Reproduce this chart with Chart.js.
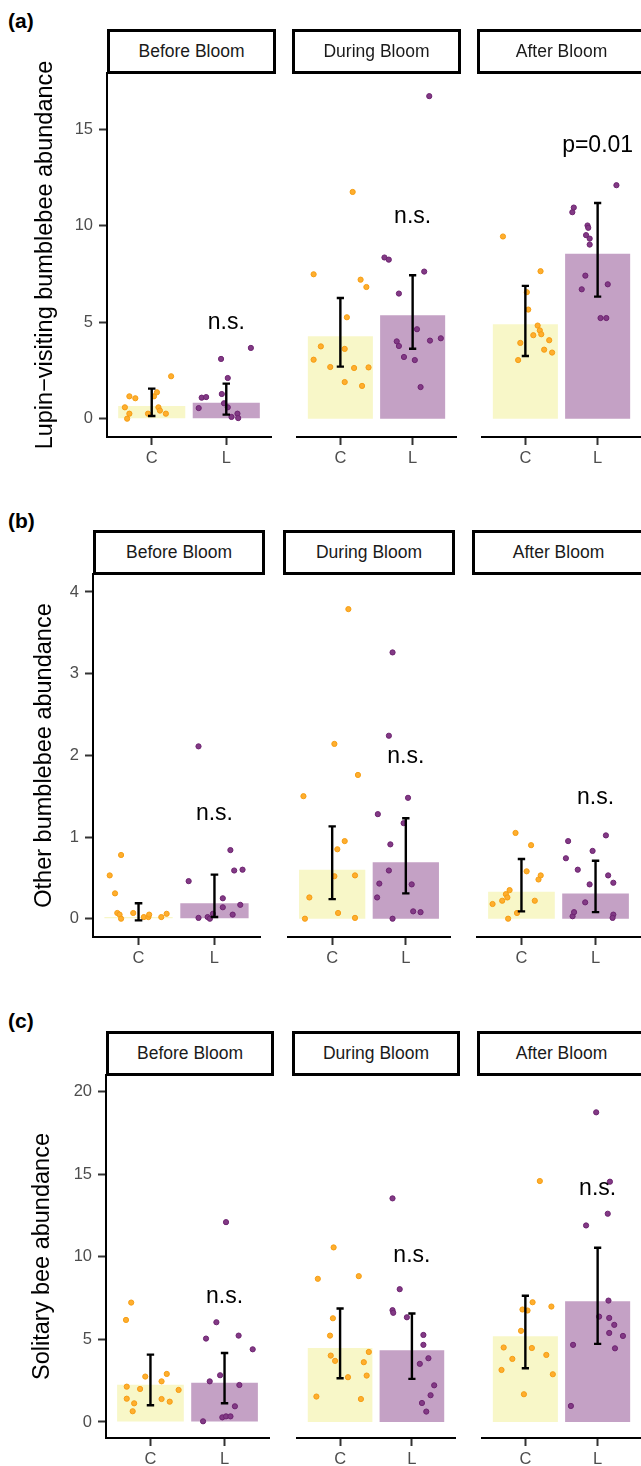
<!DOCTYPE html>
<html>
<head>
<meta charset="utf-8">
<script src="https://cdn.jsdelivr.net/npm/chart.js@4.4.0/dist/chart.umd.min.js"></script>
<style>
  html, body { margin: 0; padding: 0; background: #fff; overflow: hidden; }
  body { width: 641px; height: 1466px; position: relative; font-family: 'Liberation Sans', Arial, sans-serif; }
  .strip { position: absolute; box-sizing: border-box; border: 3px solid #000; background: #fff; color: #1a1a1a;
           font-size: 17.5px; display: flex; align-items: center; justify-content: center; white-space: nowrap; z-index: 2; }
  .tag { position: absolute; font-weight: bold; font-size: 21px; line-height: 1; color: #000; }
  canvas { position: absolute; }
</style>
</head>
<body>
<script>
const periods = ['Before Bloom', 'During Bloom', 'After Bloom'];
const treatments = ['C', 'L'];

// (a) lupin-visiting bumblebees: [jitter, value] per period
const lupinPtsC = [
  [[-0.36,0.59],[-0.33,0],[-0.30,0.26],[-0.30,1.16],[-0.22,1.06],[-0.05,0.26],[0.03,1.16],[0.07,1.37],[0.09,0.59],[0.11,0.42],[0.19,0.26],[0.26,2.2]],
  [[-0.37,7.49],[-0.27,3.75],[-0.37,3.06],[-0.14,2.68],[0.06,1.90],[0.06,3.62],[0.09,5.26],[0.17,11.76],[0.19,2.63],[0.28,7.21],[0.30,1.70],[0.36,6.83],[0.39,2.66]],
  [[-0.31,9.45],[-0.10,3.04],[-0.07,3.93],[0.02,6.56],[0.04,5.66],[0.11,4.33],[0.17,4.83],[0.20,4.58],[0.22,4.38],[0.21,7.65],[0.26,3.58],[0.33,4.07],[0.37,3.43]]
];
const lupinPtsL = [
  [[-0.37,0.55],[-0.33,1.09],[-0.27,1.12],[-0.07,3.10],[-0.06,1.28],[-0.03,0.80],[0.02,0.59],[0.02,2.11],[0.07,0.09],[0.15,0.26],[0.16,0.03],[0.33,3.67]],
  [[-0.39,8.36],[-0.33,8.25],[-0.22,4.01],[-0.19,6.49],[-0.19,3.77],[-0.12,3.20],[0.03,3.04],[0.06,4.64],[0.11,1.64],[0.16,7.63],[0.23,16.73],[0.24,4.05],[0.39,4.17]],
  [[-0.35,10.71],[-0.33,10.95],[-0.22,6.71],[-0.17,7.42],[-0.16,9.52],[-0.14,10.02],[-0.13,9.9],[-0.11,9.34],[-0.11,9.03],[0.04,5.22],[0.12,5.22],[0.14,6.97],[0.26,12.11]]
];
const lupinMean = [[0.66, 0.83], [4.27, 5.36], [4.90, 8.56]];
const lupinLow = [[0.14, 0.21], [2.70, 3.63], [3.25, 6.33]];
const lupinHigh = [[1.56, 1.82], [6.26, 7.44], [6.89, 11.19]];
const lupinSig = ['n.s.', 'n.s.', 'p=0.01'];
const lupinSigY = [5.0, 10.5, 14.15];
const lupinTicks = [0, 5, 10, 15];

// (b) other bumblebees
const otherPtsC = [
  [[-0.38,0.53],[-0.31,0.31],[-0.28,0.07],[-0.25,0.05],[-0.23,0.78],[-0.23,0],[-0.07,0.07],[0.07,0.02],[0.13,0.02],[0.14,0.05],[0.30,0.02],[0.37,0.06]],
  [[-0.39,1.50],[-0.37,0],[-0.31,0.26],[0.03,0.52],[0.03,2.14],[0.07,0.85],[0.08,0.07],[0.17,0.95],[0.22,3.79],[0.31,0.53],[0.31,0.01],[0.35,1.76]],
  [[-0.39,0.18],[-0.26,0.22],[-0.21,0.30],[-0.19,0.26],[-0.18,0],[-0.16,0.35],[-0.08,1.05],[-0.06,0.07],[0.07,0.58],[0.13,0.90],[0.18,0.22],[0.23,0.48],[0.26,0.53]]
];
const otherPtsL = [
  [[-0.34,0.46],[-0.21,2.11],[-0.21,0.01],[-0.09,0.02],[-0.06,0],[-0.02,0.06],[0.11,0.25],[0.11,0.14],[0.21,0.84],[0.24,0.05],[0.26,0.59],[0.34,0.17],[0.37,0.60]],
  [[-0.39,0.26],[-0.38,1.28],[-0.36,0.43],[-0.23,2.24],[-0.23,0.59],[-0.21,0.91],[-0.18,3.26],[-0.18,0],[-0.03,1.17],[0.03,1.48],[0.08,0.42],[0.10,0.09],[0.20,0.08]],
  [[-0.40,0.74],[-0.37,0.95],[-0.31,0.03],[-0.29,0.08],[-0.24,0.60],[-0.14,0.20],[-0.08,0.42],[-0.04,0.83],[0.14,1.02],[0.17,0.53],[0.24,0.44],[0.24,0.05],[0.23,0.01]]
];
const otherMean = [[0.02, 0.19], [0.60, 0.69], [0.33, 0.31]];
const otherLow = [[-0.02, 0.02], [0.24, 0.31], [0.09, 0.08]];
const otherHigh = [[0.19, 0.54], [1.13, 1.23], [0.73, 0.71]];
const otherSig = ['n.s.', 'n.s.', 'n.s.'];
const otherSigY = [1.28, 1.98, 1.48];
const otherTicks = [0, 1, 2, 3, 4];

// (c) solitary bees
const soloPtsC = [
  [[-0.33,6.18],[-0.32,2.14],[-0.32,1.41],[-0.26,7.23],[-0.24,0.65],[-0.22,1.13],[-0.14,2.0],[-0.07,2.75],[0.15,2.46],[0.15,1.39],[0.22,2.91],[0.26,1.23],[0.38,1.94]],
  [[-0.33,1.54],[-0.31,8.67],[-0.14,5.23],[-0.13,4.02],[-0.10,6.28],[-0.09,10.57],[-0.07,3.70],[0.11,2.71],[0.26,8.83],[0.29,1.39],[0.33,3.62],[0.37,2.81],[0.40,4.24]],
  [[-0.33,3.15],[-0.30,4.51],[-0.18,3.82],[-0.06,5.52],[-0.04,6.81],[-0.02,1.68],[0.03,6.75],[0.09,4.48],[0.10,7.25],[0.20,14.59],[0.29,4.06],[0.36,6.99],[0.38,2.89]]
];
const soloPtsL = [
  [[-0.29,0.04],[-0.25,5.05],[-0.20,2.46],[-0.11,6.04],[-0.06,2.83],[-0.03,0.28],[0.02,12.10],[0.02,0.34],[0.08,0.34],[0.14,0.95],[0.19,5.23],[0.20,2.24],[0.38,4.40]],
  [[-0.27,13.54],[-0.27,6.77],[-0.26,6.61],[-0.17,8.04],[-0.07,6.34],[0.11,3.52],[0.14,1.15],[0.16,5.27],[0.16,4.67],[0.20,0.63],[0.23,3.86],[0.26,1.62],[0.31,2.22]],
  [[-0.37,0.97],[-0.34,4.67],[-0.16,11.90],[-0.02,18.75],[0.02,6.38],[0.14,12.61],[0.15,7.35],[0.16,6.30],[0.16,5.39],[0.17,14.55],[0.23,5.88],[0.24,4.46],[0.35,5.21]]
];
const soloMean = [[2.26, 2.38], [4.48, 4.34], [5.19, 7.31]];
const soloLow = [[1.01, 1.13], [2.65, 2.61], [3.25, 4.73]];
const soloHigh = [[4.08, 4.18], [6.87, 6.57], [7.64, 10.55]];
const soloSig = ['n.s.', 'n.s.', 'n.s.'];
const soloSigY = [7.58, 10.10, 14.14];
const soloTicks = [0, 5, 10, 15, 20];

const FONT = "'Liberation Sans', Arial, sans-serif";
const X_AXIS_H = 40;
const TOP_PAD = 20; // room above the panel so the long y title is not cut

// layout of the three rows of facets
const rows = [
  { tag: '(a)', tagTop: 10, title: 'Lupin\u2212visiting bumblebee abundance', titleLeft: 27,
    stripTop: 29, top: 73, bottom: 437, yMin: -0.95, yMax: 17.93,
    panels: [[107, 276], [292, 461], [477, 646]],
    ptsC: lupinPtsC, ptsL: lupinPtsL, mean: lupinMean, low: lupinLow, high: lupinHigh,
    sig: lupinSig, sigY: lupinSigY, ticks: lupinTicks },
  { tag: '(b)', tagTop: 510, title: 'Other bumblebee abundance', titleLeft: 26,
    stripTop: 530, top: 574, bottom: 937, yMin: -0.224, yMax: 4.22,
    panels: [[93, 265], [283, 455], [472, 645]],
    ptsC: otherPtsC, ptsL: otherPtsL, mean: otherMean, low: otherLow, high: otherHigh,
    sig: otherSig, sigY: otherSigY, ticks: otherTicks },
  { tag: '(c)', tagTop: 1010, title: 'Solitary bee abundance', titleLeft: 24,
    stripTop: 1031, top: 1075, bottom: 1438, yMin: -0.97, yMax: 21.01,
    panels: [[106, 274], [292, 460], [477, 646]],
    ptsC: soloPtsC, ptsL: soloPtsL, mean: soloMean, low: soloLow, high: soloHigh,
    sig: soloSig, sigY: soloSigY, ticks: soloTicks }
];

// error bars + significance labels
const extras = {
  id: 'extras',
  afterDatasetsDraw(chart, args, opts) {
    const { ctx } = chart;
    const x = chart.scales.x, y = chart.scales.y;
    ctx.save();
    ctx.strokeStyle = '#000';
    ctx.lineWidth = 2.4;
    opts.low.forEach((lo, i) => {
      const cx = x.getPixelForValue(i + 1);
      const hw = x.getPixelForValue(i + 1.05) - cx;
      const yl = y.getPixelForValue(lo);
      const yh = y.getPixelForValue(opts.high[i]);
      ctx.beginPath();
      ctx.moveTo(cx, yl); ctx.lineTo(cx, yh);
      ctx.moveTo(cx - hw, yl); ctx.lineTo(cx + hw, yl);
      ctx.moveTo(cx - hw, yh); ctx.lineTo(cx + hw, yh);
      ctx.stroke();
    });
    ctx.fillStyle = '#000';
    ctx.font = '23px ' + FONT;
    ctx.textAlign = 'center';
    ctx.textBaseline = 'middle';
    ctx.fillText(opts.label, x.getPixelForValue(2), y.getPixelForValue(opts.labelY));
    ctx.restore();
  }
};

function toPoints(pts, k) {
  return pts.map(p => ({ x: k + p[0], y: p[1] }));
}

function makePanel(row, j) {
  const [pl, pr] = row.panels[j];
  const first = j === 0;
  const left = first ? row.titleLeft : pl;
  const w = pr - left;
  const h = TOP_PAD + row.bottom - row.top + X_AXIS_H;

  const canvas = document.createElement('canvas');
  canvas.width = w; canvas.height = h;
  Object.assign(canvas.style, { left: left + 'px', top: (row.top - TOP_PAD) + 'px', width: w + 'px', height: h + 'px' });
  document.body.appendChild(canvas);

  const strip = document.createElement('div');
  strip.className = 'strip';
  strip.textContent = periods[j];
  Object.assign(strip.style, {
    left: pl + 'px', top: row.stripTop + 'px',
    width: (pr - pl) + 'px', height: (row.top + 1 - row.stripTop) + 'px'
  });
  document.body.appendChild(strip);

  new Chart(canvas, {
    type: 'bar',
    data: {
      datasets: [
        {
          type: 'bar',
          data: row.mean[j].map((v, i) => ({ x: i + 1, y: v })),
          backgroundColor: ['#f8f7c8', '#c4a1c5'],
          barPercentage: 0.9,
          categoryPercentage: 1,
          order: 3
        },
        {
          type: 'scatter',
          data: toPoints(row.ptsC[j], 1),
          backgroundColor: '#ffae2e',
          borderColor: '#f59e14',
          borderWidth: 1,
          pointRadius: 2.6,
          order: 2
        },
        {
          type: 'scatter',
          data: toPoints(row.ptsL[j], 2),
          backgroundColor: '#823a85',
          borderColor: '#6e2471',
          borderWidth: 1,
          pointRadius: 2.6,
          order: 2
        }
      ]
    },
    options: {
      responsive: false,
      animation: false,
      devicePixelRatio: 1,
      layout: { padding: { top: TOP_PAD } },
      plugins: {
        legend: { display: false },
        tooltip: { enabled: false },
        extras: { low: row.low[j], high: row.high[j], label: row.sig[j], labelY: row.sigY[j] }
      },
      scales: {
        x: {
          type: 'linear',
          min: 0.4, max: 2.6,
          offset: false,
          afterBuildTicks: s => { s.ticks = [{ value: 1 }, { value: 2 }]; },
          afterFit: s => { s.height = X_AXIS_H; s.paddingLeft = 0; s.paddingRight = 0; },
          ticks: {
            callback: v => treatments[Math.round(v) - 1],
            color: '#4d4d4d',
            font: { size: 16.5, family: FONT },
            padding: 4,
            maxRotation: 0,
            autoSkip: false
          },
          grid: { display: true, drawOnChartArea: false, offset: false, tickLength: 8, tickWidth: 2, tickColor: '#333' },
          border: { display: true, color: '#000', width: 2 }
        },
        y: {
          display: first,
          min: row.yMin, max: row.yMax,
          afterBuildTicks: s => { s.ticks = row.ticks.map(v => ({ value: v })); },
          afterFit: s => { if (first) s.width = pl - left; s.paddingTop = 0; s.paddingBottom = 0; },
          ticks: { color: '#4d4d4d', font: { size: 16.5, family: FONT }, padding: 6 },
          grid: { display: true, drawOnChartArea: false, tickLength: 8, tickWidth: 2, tickColor: '#333' },
          border: { display: true, color: '#000', width: 2 },
          title: { display: true, text: row.title, color: '#000', font: { size: 23.5, family: FONT }, padding: 4 }
        }
      }
    },
    plugins: [extras]
  });
}

rows.forEach(row => {
  const tag = document.createElement('div');
  tag.className = 'tag';
  tag.textContent = row.tag;
  Object.assign(tag.style, { left: '8px', top: row.tagTop + 'px' });
  document.body.appendChild(tag);
  periods.forEach((p, j) => makePanel(row, j));
});
</script>
</body>
</html>
